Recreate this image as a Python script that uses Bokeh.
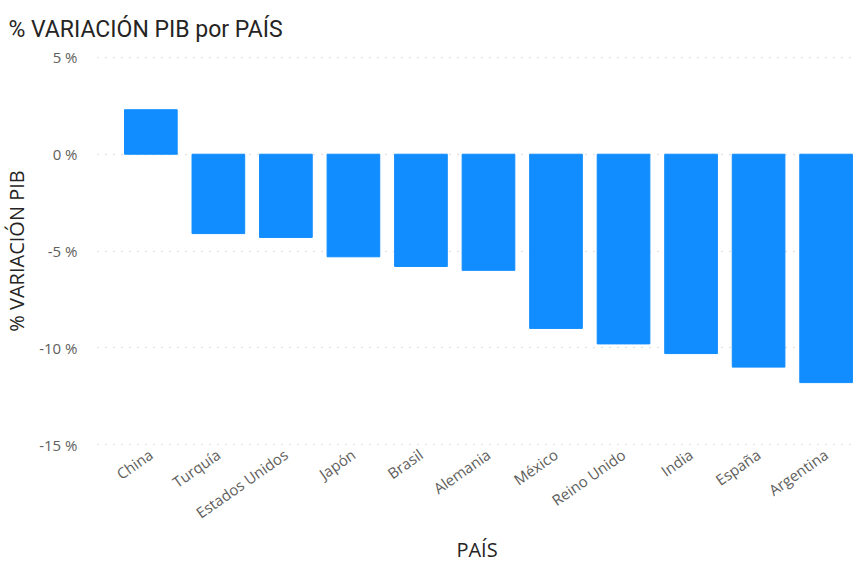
from bokeh.plotting import figure
from bokeh.models import Range1d, FixedTicker, PrintfTickFormatter, ColumnDataSource, Title
from bokeh.embed import file_html
from bokeh.resources import INLINE

countries = ["China", "Turquía", "Estados Unidos", "Japón", "Brasil", "Alemania",
             "México", "Reino Unido", "India", "España", "Argentina"]
variation = [2.3, -4.1, -4.3, -5.3, -5.8, -6.0, -9.0, -9.8, -10.3, -11.0, -11.8]
y_ticks = [-15, -10, -5, 0, 5]

idx = list(range(len(countries)))
src = ColumnDataSource(dict(x=idx, top=variation, name=countries))

p = figure(width=858, height=562, output_backend="svg", toolbar_location=None,
           x_range=Range1d(-0.79, 10.45), y_range=Range1d(-15.05, 5.05),
           min_border_left=89, min_border_right=2, min_border_top=56, min_border_bottom=0)

p.vbar(x="x", top="top", bottom=0, width=0.78, source=src, color="#118DFF")

p.title.text = "% VARIACIÓN PIB por PAÍS"
p.title.text_font = "Roboto"
p.title.text_font_size = "23px"
p.title.text_font_style = "normal"
p.title.text_color = "#252423"
p.title.offset = -89
p.title.standoff = 27

p.outline_line_color = None
p.background_fill_color = "white"
p.border_fill_color = "white"

# x axis
xa = p.xaxis[0]
xa.ticker = FixedTicker(ticks=idx)
xa.major_label_overrides = {i: c for i, c in enumerate(countries)}
xa.major_label_orientation = 0.61
xa.axis_line_color = None
xa.major_tick_line_color = None
xa.minor_tick_line_color = None
xa.major_label_text_font = "Open Sans"
xa.major_label_text_font_size = "15px"
xa.major_label_text_color = "#605E5C"
xa.major_label_standoff = 1

x_title = Title(text="PAÍS", align="center", offset=12, standoff=0,
                text_font="Open Sans", text_font_size="20px", text_font_style="normal",
                text_color="#252423")
p.add_layout(x_title, "below")

# y axis
ya = p.yaxis[0]
ya.ticker = FixedTicker(ticks=y_ticks)
ya.formatter = PrintfTickFormatter(format="%d %%")
ya.axis_line_color = None
ya.major_tick_line_color = None
ya.minor_tick_line_color = None
ya.major_label_text_font = "Open Sans"
ya.major_label_text_font_size = "15px"
ya.major_label_text_color = "#605E5C"
ya.major_label_standoff = 14
ya.axis_label = "% VARIACIÓN PIB"
ya.axis_label_text_font = "Open Sans"
ya.axis_label_text_font_size = "20px"
ya.axis_label_text_font_style = "normal"
ya.axis_label_text_color = "#252423"
ya.axis_label_standoff = 6

p.xgrid.grid_line_color = None
p.ygrid.grid_line_color = "#C8C6C4"
p.ygrid.grid_line_dash = "1 7"
p.ygrid.grid_line_width = 1.5

open("out.html", "w").write(file_html(p, INLINE))
